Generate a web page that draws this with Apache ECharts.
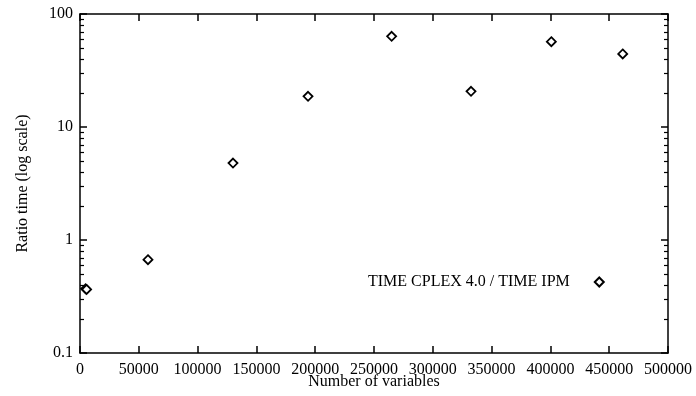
<!DOCTYPE html>
<html>
<head>
<meta charset="utf-8">
<script src="https://cdn.jsdelivr.net/npm/echarts@6/dist/echarts.min.js"></script>
<style>html,body{margin:0;padding:0;background:#fff;}#c{width:696px;height:396px;}</style>
</head>
<body>
<div id="c"></div>
<script>
var seriesName = 'TIME CPLEX 4.0 / TIME IPM';
var numVariables = [4800, 5600, 57800, 130100, 193900, 265000, 332500, 400800, 461500];
var ratioTime = [0.37, 0.365, 0.67, 4.8, 18.7, 63.5, 20.7, 56.9, 44.3];
var yMinorTicks = [0.2,0.3,0.4,0.5,0.6,0.7,0.8,0.9,2,3,4,5,6,7,8,9,20,30,40,50,60,70,80,90];
var xMin = 0, xMax = 500000, xInterval = 50000;
var yMin = 0.1, yMax = 100;

var font = 'Liberation Serif';
var chart = echarts.init(document.getElementById('c'), null, {renderer: 'canvas'});
var lineStyle = {color: '#000', width: 1.5};

var option = {
  animation: false,
  backgroundColor: '#fff',
  grid: {left: 80, right: 28, top: 14, bottom: 43, containLabel: false, outerBoundsMode: 'none'},
  legend: {
    show: true,
    data: [seriesName],
    left: 363,
    top: 269,
    align: 'right',
    itemWidth: 9,
    itemHeight: 9,
    textStyle: {fontFamily: font, fontSize: 16, color: '#000', padding: [0, 20, 0, 0]}
  },
  xAxis: [{
    type: 'value', min: xMin, max: xMax, interval: xInterval,
    name: 'Number of variables', nameLocation: 'middle', nameGap: 21, nameMoveOverlap: false,
    nameTextStyle: {fontFamily: font, fontSize: 16, color: '#000'},
    axisLine: {show: true, onZero: false, lineStyle: lineStyle},
    axisTick: {show: true, inside: true, length: 7, lineStyle: lineStyle},
    axisLabel: {fontFamily: font, fontSize: 16, color: '#000', margin: 9, showMaxLabel: true,
      formatter: function (v) { return String(v); }},
    splitLine: {show: false}
  }, {
    type: 'value', min: xMin, max: xMax, interval: xInterval, position: 'top',
    axisLine: {show: true, onZero: false, lineStyle: lineStyle},
    axisTick: {show: true, inside: true, length: 7, lineStyle: lineStyle},
    axisLabel: {show: false},
    splitLine: {show: false}
  }],
  yAxis: [{
    type: 'log', logBase: 10, min: yMin, max: yMax,
    name: 'Ratio time (log scale)', nameLocation: 'middle', nameGap: 49, nameRotate: 90, nameMoveOverlap: false,
    nameTextStyle: {fontFamily: font, fontSize: 16, color: '#000'},
    axisLine: {show: true, onZero: false, lineStyle: lineStyle},
    axisTick: {show: true, inside: true, length: 7, lineStyle: lineStyle},
    axisLabel: {fontFamily: font, fontSize: 16, color: '#000', margin: 7,
      formatter: function (v) { return String(+v.toPrecision(6)); }},
    splitLine: {show: false}
  }, {
    type: 'log', logBase: 10, min: yMin, max: yMax, position: 'right',
    axisLine: {show: true, onZero: false, lineStyle: lineStyle},
    axisTick: {show: true, inside: true, length: 7, lineStyle: lineStyle},
    axisLabel: {show: false},
    splitLine: {show: false}
  }],
  series: [{
    name: seriesName,
    type: 'scatter',
    xAxisIndex: 0, yAxisIndex: 0,
    symbol: 'diamond',
    symbolSize: 9,
    itemStyle: {color: '#fff', borderColor: '#000', borderWidth: 1.8, opacity: 1},
    data: numVariables.map(function (x, i) { return [x, ratioTime[i]]; }),
    z: 5
  }, {
    type: 'custom',
    xAxisIndex: 0, yAxisIndex: 0,
    silent: true,
    legendHoverLink: false,
    data: yMinorTicks.map(function (v) { return [xMin, v]; }),
    renderItem: function (params, api) {
      var pl = api.coord([xMin, api.value(1)]);
      var pr = api.coord([xMax, api.value(1)]);
      var y = Math.round(pl[1]) + 0.5;
      return {type: 'group', children: [
        {type: 'line', shape: {x1: pl[0], y1: y, x2: pl[0] + 4, y2: y}, style: {stroke: '#000', lineWidth: 1.2}},
        {type: 'line', shape: {x1: pr[0], y1: y, x2: pr[0] - 4, y2: y}, style: {stroke: '#000', lineWidth: 1.2}}
      ]};
    },
    z: 3
  }]
};
chart.setOption(option);
</script>
</body>
</html>
